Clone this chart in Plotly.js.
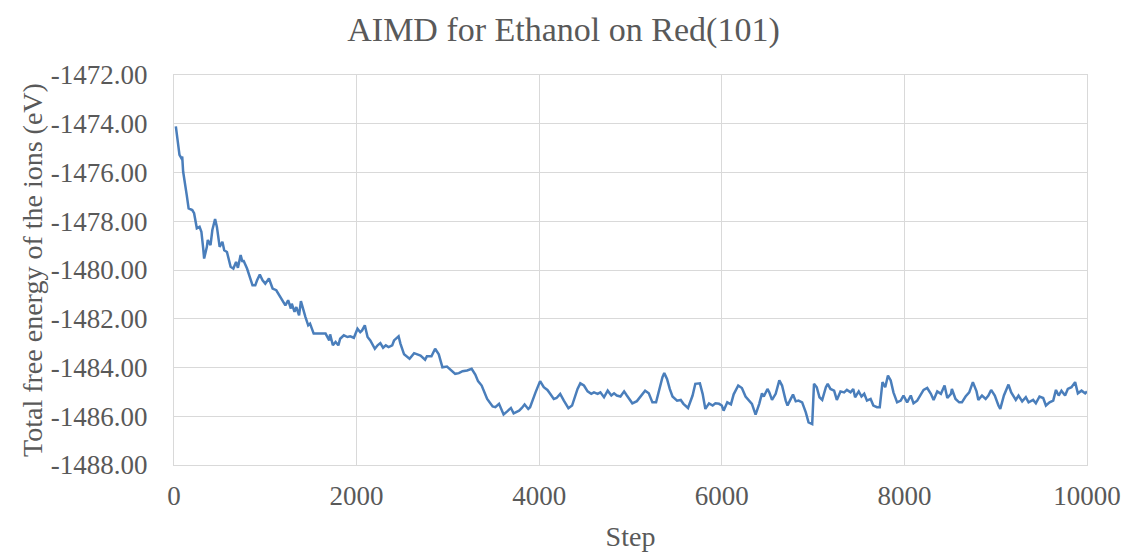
<!DOCTYPE html>
<html>
<head>
<meta charset="utf-8">
<script src="https://cdn.plot.ly/plotly-3.0.1.min.js"></script>
<style>html,body{margin:0;padding:0;background:#fff;}#chart{width:1127px;height:554px;}</style>
</head>
<body>
<div id="chart"></div>
<script>
// Step values (x)
const steps = [20,30,40,60,80,90,100,130,140,160,200,220,250,280,300,320,330,360,370,400,420,450,470,500,530,550,580,620,650,680,700,730,750,760,800,860,890,910,940,970,1000,1040,1080,1120,1170,1220,1250,1280,1290,1320,1340,1370,1390,1420,1440,1470,1490,1530,1600,1660,1700,1710,1740,1770,1800,1820,1860,1900,1930,1970,2010,2040,2060,2090,2120,2150,2200,2230,2260,2290,2320,2350,2390,2410,2460,2480,2520,2550,2580,2630,2660,2700,2750,2770,2820,2860,2900,2940,2990,3030,3080,3120,3160,3210,3260,3300,3330,3370,3400,3430,3490,3520,3560,3610,3650,3690,3720,3780,3810,3840,3880,3900,3960,4010,4050,4090,4120,4160,4190,4230,4270,4320,4360,4420,4450,4490,4530,4570,4600,4640,4670,4710,4750,4790,4820,4850,4890,4930,4960,5020,5070,5130,5160,5200,5240,5280,5320,5350,5370,5400,5430,5460,5510,5550,5580,5630,5680,5710,5760,5790,5820,5860,5900,5930,5970,6000,6020,6060,6100,6130,6180,6220,6260,6300,6330,6370,6410,6440,6460,6500,6520,6550,6590,6630,6660,6700,6720,6750,6780,6810,6840,6880,6920,6950,6990,7010,7040,7070,7100,7140,7160,7190,7230,7260,7300,7340,7370,7410,7440,7460,7500,7530,7560,7590,7630,7660,7700,7730,7760,7790,7820,7850,7880,7920,7960,7990,8030,8070,8100,8140,8180,8210,8250,8290,8320,8360,8400,8440,8470,8510,8520,8560,8600,8630,8670,8710,8750,8790,8810,8850,8890,8920,8950,8990,9030,9050,9090,9140,9170,9220,9250,9290,9330,9360,9410,9440,9480,9520,9550,9590,9630,9660,9690,9720,9760,9790,9830,9870,9900,9940,9980,10000];
// Total free energy of the ions (eV)
const energy = [-1474.11,-1474.45,-1474.66,-1475.28,-1475.41,-1475.35,-1475.96,-1476.58,-1476.94,-1477.47,-1477.54,-1477.67,-1478.29,-1478.23,-1478.43,-1479.12,-1479.53,-1479.05,-1478.77,-1478.98,-1478.36,-1477.91,-1478.23,-1479.05,-1478.84,-1479.19,-1479.26,-1479.87,-1479.94,-1479.67,-1479.91,-1479.39,-1479.67,-1479.60,-1479.94,-1480.63,-1480.63,-1480.42,-1480.19,-1480.42,-1480.56,-1480.35,-1480.76,-1480.83,-1481.17,-1481.45,-1481.24,-1481.58,-1481.38,-1481.72,-1481.52,-1481.86,-1481.28,-1481.72,-1481.93,-1482.27,-1482.20,-1482.61,-1482.61,-1482.61,-1482.89,-1482.64,-1483.09,-1482.95,-1483.09,-1482.82,-1482.68,-1482.75,-1482.72,-1482.78,-1482.41,-1482.55,-1482.48,-1482.27,-1482.75,-1482.89,-1483.23,-1483.09,-1483.00,-1483.19,-1483.09,-1483.16,-1483.09,-1482.89,-1482.72,-1483.02,-1483.46,-1483.54,-1483.64,-1483.41,-1483.46,-1483.51,-1483.68,-1483.54,-1483.54,-1483.23,-1483.46,-1483.99,-1483.96,-1484.09,-1484.26,-1484.23,-1484.15,-1484.12,-1484.05,-1484.29,-1484.56,-1484.74,-1485.02,-1485.29,-1485.60,-1485.63,-1485.49,-1485.93,-1485.80,-1485.66,-1485.88,-1485.77,-1485.66,-1485.52,-1485.70,-1485.63,-1485.02,-1484.56,-1484.81,-1484.92,-1485.08,-1485.29,-1485.25,-1485.08,-1485.36,-1485.67,-1485.56,-1484.88,-1484.65,-1484.74,-1484.98,-1485.08,-1485.02,-1485.08,-1485.02,-1485.22,-1484.95,-1485.15,-1485.06,-1485.15,-1485.19,-1484.98,-1485.15,-1485.47,-1485.38,-1485.08,-1484.95,-1485.06,-1485.43,-1485.43,-1484.81,-1484.40,-1484.23,-1484.47,-1484.88,-1485.19,-1485.36,-1485.33,-1485.49,-1485.66,-1485.15,-1484.67,-1484.65,-1485.08,-1485.70,-1485.47,-1485.56,-1485.47,-1485.49,-1485.56,-1485.77,-1485.43,-1485.51,-1485.10,-1484.74,-1484.84,-1485.19,-1485.36,-1485.49,-1485.93,-1485.49,-1485.06,-1485.19,-1484.88,-1485.02,-1485.33,-1485.08,-1484.53,-1484.74,-1485.36,-1485.56,-1485.33,-1485.11,-1485.39,-1485.36,-1485.43,-1485.84,-1486.25,-1486.32,-1484.67,-1484.81,-1485.22,-1485.33,-1484.81,-1484.67,-1484.88,-1484.95,-1485.33,-1484.98,-1485.02,-1484.92,-1485.02,-1484.88,-1485.22,-1484.98,-1485.19,-1485.08,-1485.36,-1485.29,-1485.56,-1485.63,-1485.63,-1484.60,-1484.81,-1484.33,-1484.53,-1485.02,-1485.43,-1485.36,-1485.15,-1485.43,-1485.15,-1485.47,-1485.36,-1485.08,-1484.92,-1484.84,-1485.08,-1485.33,-1484.98,-1485.08,-1484.74,-1485.25,-1485.08,-1484.88,-1485.29,-1485.43,-1485.43,-1485.19,-1485.02,-1484.60,-1484.98,-1485.33,-1485.15,-1485.29,-1485.15,-1484.92,-1485.15,-1485.56,-1485.70,-1485.15,-1484.70,-1485.02,-1485.33,-1485.15,-1485.39,-1485.22,-1485.43,-1485.33,-1485.47,-1485.19,-1485.25,-1485.56,-1485.43,-1485.36,-1484.92,-1485.15,-1484.95,-1485.15,-1484.88,-1484.81,-1484.60,-1485.06,-1484.95,-1485.06,-1484.98];
// Tick values
const yTicks = [-1488,-1486,-1484,-1482,-1480,-1478,-1476,-1474,-1472];
const xTicks = [0,2000,4000,6000,8000,10000];
const yTickLabels = yTicks.map(v => v.toFixed(2));
const xTickLabels = xTicks.map(v => String(v));

const font = 'Liberation Serif, Times New Roman, serif';
const textColor = '#595959';
const grid = '#d9d9d9';

Plotly.newPlot('chart', [{
  x: steps, y: energy, type: 'scatter', mode: 'lines',
  line: {color: '#4a7ebb', width: 2.5}, hoverinfo: 'x+y'
}], {
  width: 1127, height: 554,
  margin: {l: 174, r: 40, t: 75, b: 89},
  paper_bgcolor: '#fff', plot_bgcolor: '#fff',
  showlegend: false,
  font: {family: font, color: textColor},
  title: {text: 'AIMD for Ethanol on Red(101)', font: {family: font, size: 34, color: textColor},
          x: 0.5, xref: 'container', xanchor: 'center', y: 0.948, yref: 'container', yanchor: 'middle'},
  xaxis: {
    range: [0, 10000], tickvals: xTicks, ticktext: xTickLabels,
    showgrid: true, gridcolor: grid, gridwidth: 1, zeroline: false,
    showline: true, mirror: true, linecolor: grid, linewidth: 1,
    ticks: '', ticklabelstandoff: 7, tickfont: {family: font, size: 27, color: textColor},
    title: {text: 'Step', font: {family: font, size: 28, color: textColor}, standoff: 15}
  },
  yaxis: {
    range: [-1488, -1472], tickvals: yTicks, ticktext: yTickLabels,
    showgrid: true, gridcolor: grid, gridwidth: 1, zeroline: false,
    showline: true, mirror: true, linecolor: grid, linewidth: 1,
    ticks: '', ticklabelstandoff: 20, tickfont: {family: font, size: 27, color: textColor},
    title: {text: 'Total free energy of the ions (eV)', font: {family: font, size: 28, color: textColor}, standoff: 0}
  }
}, {staticPlot: true, displayModeBar: false});
</script>
</body>
</html>
